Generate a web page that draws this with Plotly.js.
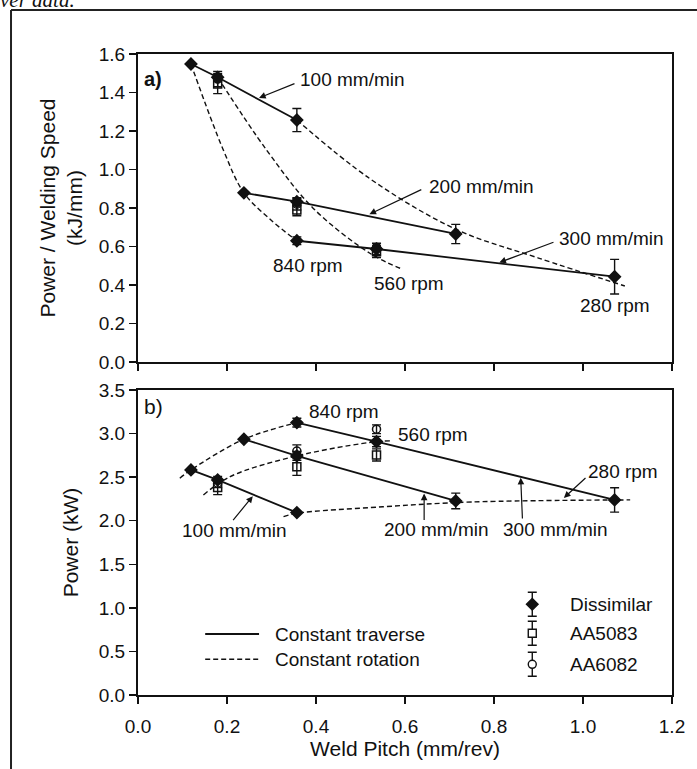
<!DOCTYPE html>
<html><head><meta charset="utf-8">
<script src="https://cdn.plot.ly/plotly-3.0.1.min.js"></script>
<style>html,body{margin:0;padding:0;background:#fff;} #chart{width:697px;height:769px;}</style>
</head><body><div id="chart"></div>
<script>
// ---- Data ----
// Weld pitch (mm/rev) for each constant traverse speed (mm/min)
const pitchTrav100 = [0.119, 0.179, 0.357];
const pitchTrav200 = [0.238, 0.357, 0.714];
const pitchTrav300 = [0.357, 0.536, 1.071];
// a) Power / welding speed (kJ/mm), dissimilar welds
const energyTrav100 = [1.548, 1.479, 1.257];
const energyTrav200 = [0.879, 0.833, 0.665];
const energyTrav300 = [0.630, 0.587, 0.443];
const energyErrTrav100 = [0, 0.02, 0.06];
const energyErrTrav200 = [0, 0.02, 0.05];
const energyErrTrav300 = [0.02, 0.03, 0.09];
// b) Power (kW), dissimilar welds
const powerTrav100 = [2.583, 2.468, 2.093];
const powerTrav200 = [2.935, 2.744, 2.227];
const powerTrav300 = [3.126, 2.908, 2.239];
const powerErrTrav100 = [0, 0.04, 0];
const powerErrTrav200 = [0, 0.05, 0.09];
const powerErrTrav300 = [0.05, 0.06, 0.14];
// Similar welds (560 rpm)
const pitchAA = [0.179, 0.357, 0.536];
const energyAA5083 = [1.444, 0.790, 0.573];
const energyErrAA5083 = [0.05, 0.03, 0.03];
const energyAA6082 = [1.470, 0.820, 0.595];
const energyErrAA6082 = [0.04, 0.03, 0.02];
const powerAA5083 = [2.38, 2.62, 2.755];
const powerErrAA5083 = [0.08, 0.10, 0.07];
const powerAA6082 = [2.43, 2.80, 3.05];
const powerErrAA6082 = [0.05, 0.07, 0.05];
// Constant-rotation fitted curves
const curveA840x = [0.119, 0.192, 0.238, 0.300, 0.357];
const curveA840y = [1.548, 1.100, 0.879, 0.735, 0.630];
const curveA560x = [0.179, 0.289, 0.394, 0.521, 0.589];
const curveA560y = [1.479, 1.101, 0.798, 0.565, 0.487];
const curveA280x = [0.357, 0.520, 0.714, 0.900, 1.094];
const curveA280y = [1.257, 0.954, 0.690, 0.540, 0.395];
const curveB840x = [0.094, 0.119, 0.238, 0.357];
const curveB840y = [2.488, 2.583, 2.935, 3.126];
const curveB560x = [0.147, 0.207, 0.357, 0.536, 0.573];
const curveB560y = [2.296, 2.506, 2.744, 2.908, 2.916];
const curveB280x = [0.327, 0.357, 0.550, 0.750, 1.106];
const curveB280y = [2.047, 2.085, 2.160, 2.215, 2.239];

// ---- Styling ----
const FONT = 'Liberation Sans, Arial, sans-serif';
const INK = '#111';
const cat = (...a) => [].concat(...a);

function solid(x, y, xa, ya) {
  return {x, y, xaxis: xa, yaxis: ya, mode: 'lines', type: 'scatter',
    line: {color: INK, width: 1.8}, hoverinfo: 'skip', showlegend: false};
}
function dashed(x, y, xa, ya) {
  return {x, y, xaxis: xa, yaxis: ya, mode: 'lines', type: 'scatter',
    line: {color: INK, width: 1.4, dash: '5px,3px', shape: 'spline', smoothing: 1},
    hoverinfo: 'skip', showlegend: false};
}
function pts(x, y, err, sym, size, xa, ya) {
  return {x, y, xaxis: xa, yaxis: ya, mode: 'markers', type: 'scatter',
    marker: {symbol: sym, size: size, color: INK, line: {color: INK, width: 1.5}},
    error_y: {type: 'data', array: err, visible: true, color: INK, thickness: 1.4, width: 4.5},
    hoverinfo: 'skip', showlegend: false};
}

const data = [
  solid(pitchTrav100, energyTrav100, 'x', 'y'),
  solid(pitchTrav200, energyTrav200, 'x', 'y'),
  solid(pitchTrav300, energyTrav300, 'x', 'y'),
  dashed(curveA840x, curveA840y, 'x', 'y'),
  dashed(curveA560x, curveA560y, 'x', 'y'),
  dashed(curveA280x, curveA280y, 'x', 'y'),
  pts(pitchAA, energyAA5083, energyErrAA5083, 'square-open', 8, 'x', 'y'),
  pts(pitchAA, energyAA6082, energyErrAA6082, 'circle-open', 8, 'x', 'y'),
  pts(cat(pitchTrav100, pitchTrav200, pitchTrav300), cat(energyTrav100, energyTrav200, energyTrav300),
      cat(energyErrTrav100, energyErrTrav200, energyErrTrav300), 'diamond', 9, 'x', 'y'),

  solid(pitchTrav100, powerTrav100, 'x2', 'y2'),
  solid(pitchTrav200, powerTrav200, 'x2', 'y2'),
  solid(pitchTrav300, powerTrav300, 'x2', 'y2'),
  dashed(curveB840x, curveB840y, 'x2', 'y2'),
  dashed(curveB560x, curveB560y, 'x2', 'y2'),
  dashed(curveB280x, curveB280y, 'x2', 'y2'),
  pts(pitchAA, powerAA5083, powerErrAA5083, 'square-open', 8, 'x2', 'y2'),
  pts(pitchAA, powerAA6082, powerErrAA6082, 'circle-open', 8, 'x2', 'y2'),
  pts(cat(pitchTrav100, pitchTrav200, pitchTrav300), cat(powerTrav100, powerTrav200, powerTrav300),
      cat(powerErrTrav100, powerErrTrav200, powerErrTrav300), 'diamond', 9, 'x2', 'y2')
];

const baseAxis = {
  showgrid: false, zeroline: false, showline: true, linecolor: INK, linewidth: 2,
  mirror: true, ticks: 'outside', ticklen: 7, tickwidth: 1.5, tickcolor: INK,
  tickfont: {family: FONT, size: 19, color: INK}
};
const titleFont = {family: FONT, size: 21, color: INK};

// label helpers
function lab(text, x, y, xr, yr, extra) {
  return Object.assign({text, x, y, xref: xr, yref: yr, showarrow: false,
    font: {family: FONT, size: 19, color: INK}, xanchor: 'center', yanchor: 'middle'}, extra || {});
}
function arr(x, y, ax, ay, xr, yr) {
  return {text: '', x, y, ax, ay, xref: xr, yref: yr, axref: xr, ayref: yr,
    showarrow: true, arrowhead: 2, arrowsize: 1.1, arrowwidth: 1.2, arrowcolor: INK, standoff: 0};
}

const annotations = [
  lab('<b>a)</b>', 0.034, 1.47, 'x', 'y', {font: {family: FONT, size: 20, color: INK}}),
  lab('100 mm/min', 0.482, 1.465, 'x', 'y'),
  arr(0.272, 1.372, 0.355, 1.449, 'x', 'y'),
  lab('200 mm/min', 0.771, 0.914, 'x', 'y'),
  arr(0.52, 0.768, 0.640, 0.899, 'x', 'y'),
  lab('300 mm/min', 1.064, 0.644, 'x', 'y'),
  arr(0.812, 0.517, 0.937, 0.625, 'x', 'y'),
  lab('840 rpm', 0.382, 0.499, 'x', 'y'),
  lab('560 rpm', 0.609, 0.410, 'x', 'y'),
  lab('280 rpm', 1.073, 0.296, 'x', 'y'),

  lab('b)', 0.034, 3.306, 'x2', 'y2', {font: {family: FONT, size: 21, color: INK}}),
  lab('840 rpm', 0.463, 3.253, 'x2', 'y2'),
  lab('560 rpm', 0.663, 2.985, 'x2', 'y2'),
  lab('280 rpm', 1.089, 2.564, 'x2', 'y2'),
  arr(0.957, 2.262, 1.009, 2.506, 'x2', 'y2'),
  lab('100 mm/min', 0.217, 1.883, 'x2', 'y2'),
  arr(0.258, 2.282, 0.211, 1.990, 'x2', 'y2'),
  lab('200 mm/min', 0.670, 1.894, 'x2', 'y2'),
  arr(0.643, 2.312, 0.643, 1.990, 'x2', 'y2'),
  lab('300 mm/min', 0.939, 1.894, 'x2', 'y2'),
  arr(0.860, 2.492, 0.864, 2.009, 'x2', 'y2'),

  // legend texts
  lab('Constant traverse', 0.303, 0.70, 'x2', 'y2', {xanchor: 'left'}),
  lab('Constant rotation', 0.303, 0.41, 'x2', 'y2', {xanchor: 'left'}),
  lab('Dissimilar', 0.966, 1.041, 'x2', 'y2', {xanchor: 'left'}),
  lab('AA5083', 0.966, 0.708, 'x2', 'y2', {xanchor: 'left'}),
  lab('AA6082', 0.966, 0.352, 'x2', 'y2', {xanchor: 'left'}),

  // clipped caption text from the page above the figure
  {text: '<i>ver data.</i>', x: -0.262, y: 1.084, xref: 'paper', yref: 'paper', xanchor: 'left', yanchor: 'middle',
   showarrow: false, font: {family: 'Liberation Serif, Times New Roman, serif', size: 21, color: INK}}
];

function pix(xa, ya, path, xr, yr, fill) {
  return {type: 'path', xref: xr, yref: yr, xsizemode: 'pixel', ysizemode: 'pixel',
    xanchor: xa, yanchor: ya, path, line: {color: INK, width: 1.4}, fillcolor: fill || 'rgba(0,0,0,0)'};
}
const ebar = 'M0,-12V12 M-4.5,-12H4.5 M-4.5,12H4.5';
const shapes = [
  // outer page frame
  {type: 'line', xref: 'paper', yref: 'paper', x0: -0.2378, x1: 1.07, y0: 1.0686, y1: 1.0686, line: {color: '#222', width: 2}},
  {type: 'line', xref: 'paper', yref: 'paper', x0: -0.2378, x1: -0.2378, y0: 1.0686, y1: -0.13, line: {color: '#222', width: 2}},
  // legend line samples
  {type: 'line', xref: 'x2', yref: 'y2', x0: 0.151, x1: 0.272, y0: 0.70, y1: 0.70, line: {color: INK, width: 1.8}},
  {type: 'line', xref: 'x2', yref: 'y2', x0: 0.151, x1: 0.272, y0: 0.41, y1: 0.41, line: {color: INK, width: 1.4, dash: '5px,3px'}},
  // legend markers with error bars
  pix(0.886, 1.041, ebar, 'x2', 'y2'),
  pix(0.886, 1.041, 'M0,-5.8L5.8,0L0,5.8L-5.8,0Z', 'x2', 'y2', INK),
  pix(0.886, 0.708, ebar, 'x2', 'y2'),
  pix(0.886, 0.708, 'M-4,-4H4V4H-4Z', 'x2', 'y2', '#fff'),
  pix(0.886, 0.352, ebar, 'x2', 'y2'),
  {type: 'circle', xref: 'x2', yref: 'y2', xsizemode: 'pixel', ysizemode: 'pixel', xanchor: 0.886, yanchor: 0.352,
   x0: -4, x1: 4, y0: -4, y1: 4, line: {color: INK, width: 1.4}, fillcolor: '#fff'}
];

const layout = {
  width: 697, height: 769,
  margin: {l: 138, r: 25, t: 54, b: 74},
  paper_bgcolor: '#fff', plot_bgcolor: '#fff',
  font: {family: FONT, color: INK},
  showlegend: false,
  xaxis: Object.assign({}, baseAxis, {domain: [0, 1], anchor: 'y', range: [0, 1.2], tick0: 0, dtick: 0.2, showticklabels: false}),
  yaxis: Object.assign({}, baseAxis, {domain: [0.5195, 1], anchor: 'x', range: [0, 1.6], tick0: 0, dtick: 0.2, tickformat: '.1f',
    title: {text: 'Power / Welding Speed<br>(kJ/mm)', font: titleFont, standoff: 10}}),
  xaxis2: Object.assign({}, baseAxis, {domain: [0, 1], anchor: 'y2', range: [0, 1.2], tick0: 0, dtick: 0.2, tickformat: '.1f',
    ticklabelstandoff: 6, title: {text: 'Weld Pitch (mm/rev)', font: titleFont, standoff: 4}}),
  yaxis2: Object.assign({}, baseAxis, {domain: [0, 0.4758], anchor: 'x2', range: [0, 3.5], tick0: 0, dtick: 0.5, tickformat: '.1f',
    title: {text: 'Power (kW)', font: titleFont, standoff: 14}}),
  annotations, shapes
};

Plotly.newPlot('chart', data, layout, {displayModeBar: false, staticPlot: true});
</script></body></html>
